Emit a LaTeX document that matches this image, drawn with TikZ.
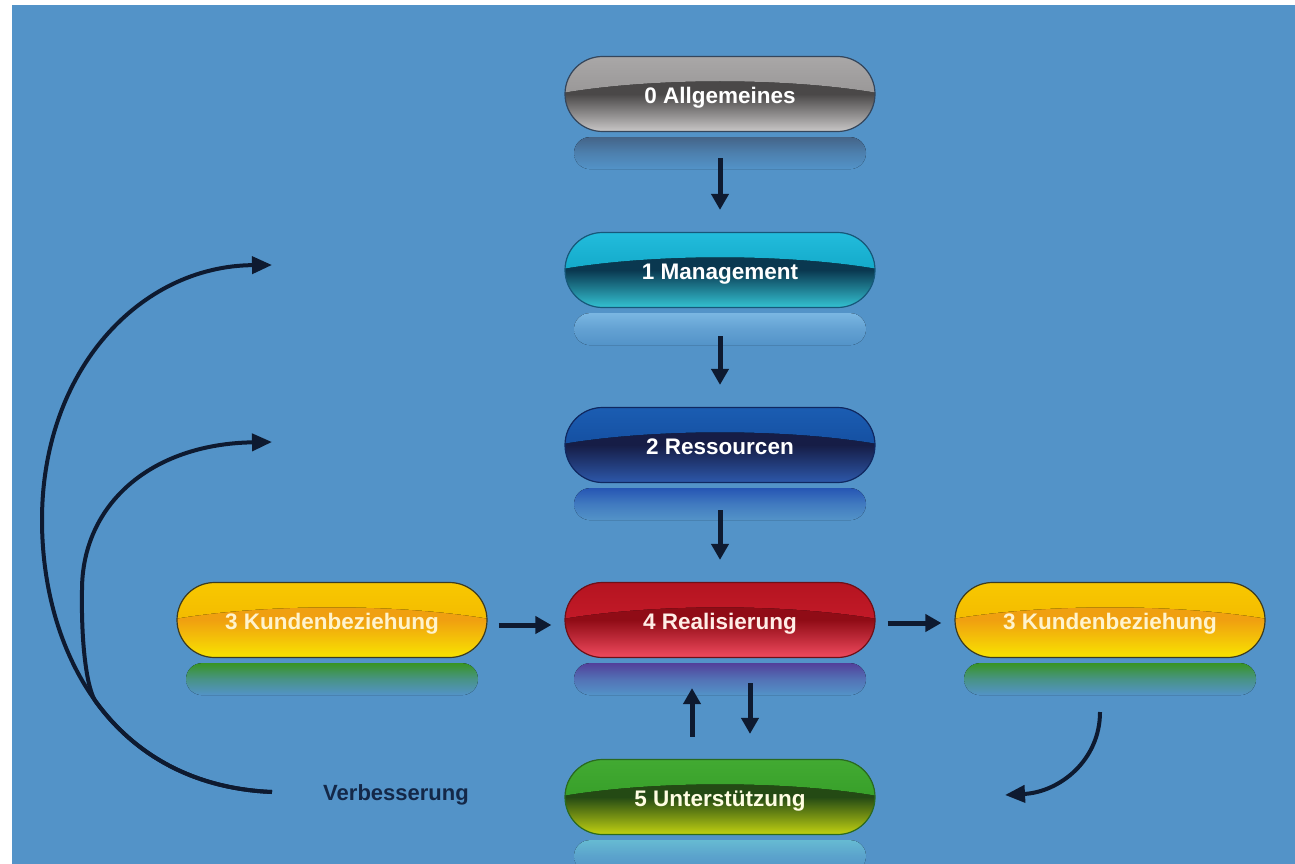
\documentclass[tikz,border=0pt]{standalone}
\usepackage{fontspec}
\setmainfont{Liberation Sans}
\usetikzlibrary{shapes.misc,calc,arrows.meta}
\definecolor{bg}{HTML}{5393C8}
\definecolor{arrc}{HTML}{0E1A30}
\definecolor{verb}{HTML}{142848}
% grey
\definecolor{gyTop}{HTML}{A9A7A7}\definecolor{gyTopB}{HTML}{9A9898}\definecolor{gyBand}{HTML}{4A4848}\definecolor{gyBot}{HTML}{C9C7C7}\definecolor{gyEdge}{HTML}{34465C}\definecolor{gyTxt}{HTML}{FFFFFF}\definecolor{gyRef}{HTML}{446488}
% cyan
\definecolor{cyTop}{HTML}{22BCDC}\definecolor{cyTopB}{HTML}{14AACA}\definecolor{cyBand}{HTML}{0A3850}\definecolor{cyBot}{HTML}{34C2D2}\definecolor{cyEdge}{HTML}{17587A}\definecolor{cyTxt}{HTML}{FFFFFF}\definecolor{cyRef}{HTML}{7AB6E2}
% blue
\definecolor{blTop}{HTML}{1B5DB2}\definecolor{blTopB}{HTML}{1550A2}\definecolor{blBand}{HTML}{161D46}\definecolor{blBot}{HTML}{2D58AA}\definecolor{blEdge}{HTML}{102860}\definecolor{blTxt}{HTML}{FFFFFF}\definecolor{blRef}{HTML}{2656B4}
% red
\definecolor{rdTop}{HTML}{B51420}\definecolor{rdTopB}{HTML}{C21A28}\definecolor{rdBand}{HTML}{900C16}\definecolor{rdBot}{HTML}{F04A5E}\definecolor{rdEdge}{HTML}{6E1018}\definecolor{rdTxt}{HTML}{FFEDE6}\definecolor{rdRef}{HTML}{52409A}
% green
\definecolor{grTop}{HTML}{42AA32}\definecolor{grTopB}{HTML}{38A02A}\definecolor{grBand}{HTML}{244A14}\definecolor{grBot}{HTML}{C2D212}\definecolor{grEdge}{HTML}{2A6A20}\definecolor{grTxt}{HTML}{FFFDE2}\definecolor{grRef}{HTML}{66BAD2}
% yellow
\definecolor{ywTop}{HTML}{F8C800}\definecolor{ywTopB}{HTML}{F4BC00}\definecolor{ywBand}{HTML}{F0A010}\definecolor{ywBot}{HTML}{F8E400}\definecolor{ywEdge}{HTML}{3C3C22}\definecolor{ywTxt}{HTML}{FFF3CC}\definecolor{ywRef}{HTML}{389424}
\tikzset{
  pill/.style={rounded rectangle, minimum width=310pt, minimum height=75pt,
    draw=#1Edge, line width=1.2pt, text=#1Txt, inner sep=0pt,
    font=\fontsize{22.5}{26}\selectfont\bfseries, text height=19.5pt, text depth=0pt,
    path picture={
      \fill[top color=#1Band, bottom color=#1Bot, middle color=#1Band]
        (path picture bounding box.south west) rectangle (path picture bounding box.north east);
      \fill[top color=#1Top, bottom color=#1TopB]
        (path picture bounding box.north west) -- (path picture bounding box.north east)
        -- ($(path picture bounding box.north east)!0.48!(path picture bounding box.south east)$)
        .. controls +(-90pt,15pt) and +(90pt,15pt) ..
        ($(path picture bounding box.north west)!0.48!(path picture bounding box.south west)$) -- cycle;
    }},
  refl/.style={top color=#1Ref, bottom color=bg, middle color=#1Ref!40!bg, rounded corners=16pt},
  arr/.style={line width=5pt, draw=arrc, -{Triangle[length=16pt,width=17pt]}},
  carr/.style={line width=4pt, draw=arrc, -{Triangle[length=20pt,width=17pt]}},
  lbl/.style={text=verb, font=\fontsize{22}{26}\selectfont\bfseries, inner sep=0pt},
}
\begin{document}
\begin{tikzpicture}[x=1pt,y=-1pt]
\useasboundingbox (0,0) rectangle (1295,864);
\fill[white] (0,0) rectangle (1295,864);
\fill[bg] (12,5) rectangle (1295,864);

\node[pill=gy] (n0) at (720,94) {0 Allgemeines};
\node[pill=cy] (n1) at (720,270) {1 Management};
\node[pill=bl] (n2) at (720,445) {2 Ressourcen};
\node[pill=rd] (n4) at (720,620) {4 Realisierung};
\node[pill=gr] (n5) at (720,797) {5 Unterstützung};
\node[pill=yw] (kL) at (332,620) {3 Kundenbeziehung};
\node[pill=yw] (kR) at (1110,620) {3 Kundenbeziehung};
\node[lbl] (verb) at (396,795) {Verbesserung};

% reflections
\foreach \n/\c in {n0/gy,n1/cy,n2/bl,n4/rd,n5/gr,kL/yw,kR/yw}{
  \fill[refl=\c] ($(\n.south)+(-146,5)$) rectangle ($(\n.south)+(146,37)$);
}

% straight arrows
\draw[arr, shorten <=26pt, shorten >=22pt] (n0.south) -- (n1.north);
\draw[arr, shorten <=28pt, shorten >=22pt] (n1.south) -- (n2.north);
\draw[arr, shorten <=27pt, shorten >=22pt] (n2.south) -- (n4.north);
\draw[arr, shorten <=22pt, shorten >=30pt] ([xshift=-28pt]n5.north) -- ([xshift=-28pt]n4.south);
\draw[arr, shorten <=25pt, shorten >=25pt] ([xshift=30pt]n4.south) -- ([xshift=30pt]n5.north);
\draw[arr, shorten <=11pt, shorten >=13pt] ([yshift=-5pt]kL.east) -- ([yshift=-5pt]n4.west);
\draw[arr, shorten <=12pt, shorten >=13pt] ([yshift=-3pt]n4.east) -- ([yshift=-3pt]kR.west);

% curved arrows
\coordinate (vS) at (272,792);
\coordinate (vT1) at (272,265);
\coordinate (vT2) at (272,442);
\coordinate (rS) at (1100,712);
\coordinate (rE) at (1005,795);
\draw[carr] (vS) .. controls (110,785) and (42,650) .. (42,520)
  .. controls (42,370) and (140,266) .. (vT1);
\draw[carr] (vS) .. controls (191,788.5) and (133.5,753) .. (96,702)
  .. controls (87,690) and (81,645) .. (82,590)
  .. controls (82,505) and (150,444) .. (vT2);
\draw[carr] (rS) .. controls (1100,760) and (1060,792) .. (rE);
\end{tikzpicture}
\end{document}
